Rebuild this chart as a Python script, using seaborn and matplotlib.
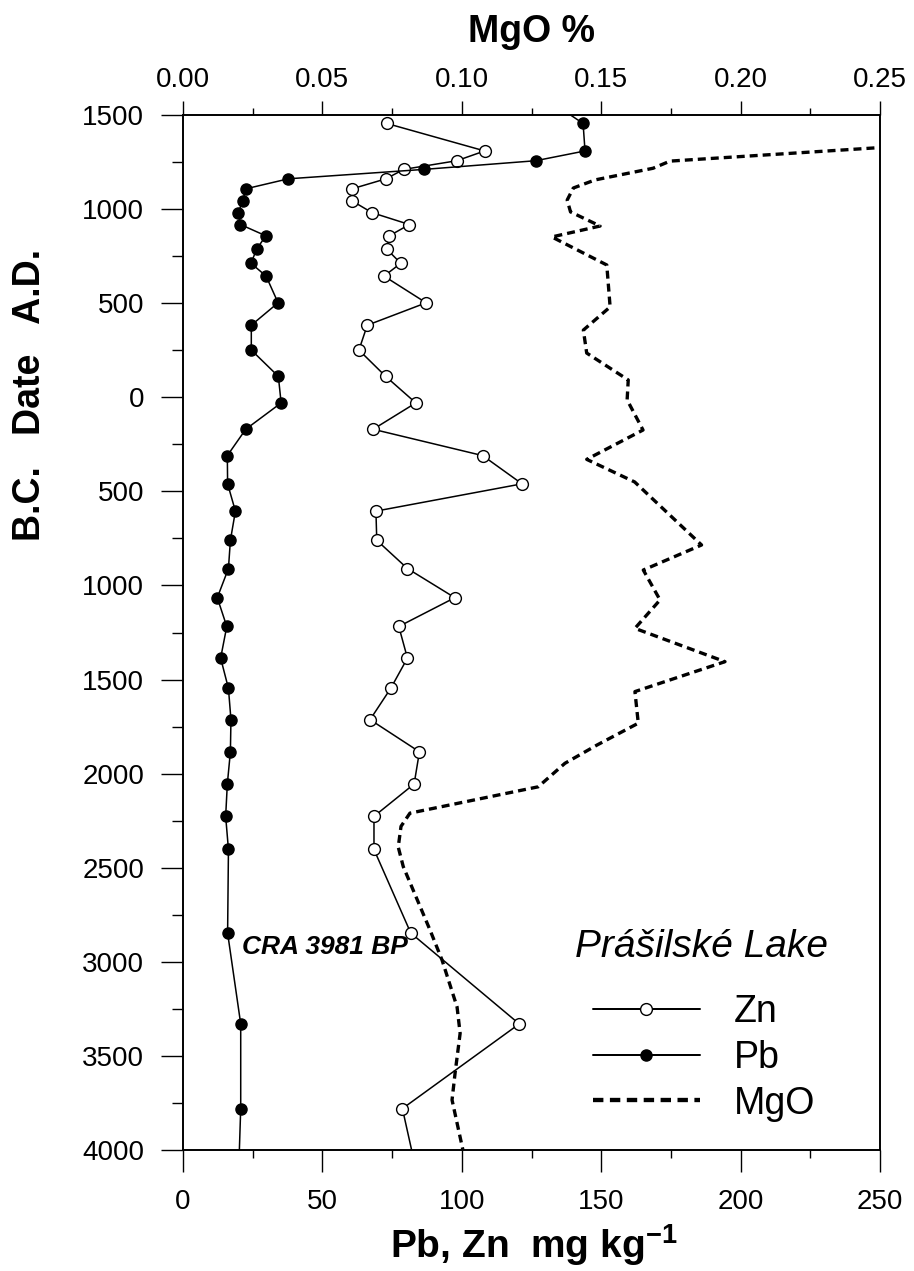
import matplotlib
matplotlib.use("Agg")
import matplotlib.pyplot as plt
import seaborn as sns
import numpy as np
import pandas as pd
from matplotlib.ticker import MultipleLocator, FixedLocator, FormatStrFormatter

# ---------------- data (years: AD positive, BC negative) ----------------
pb_year = [1560, 1455, 1309, 1257, 1211, 1161, 1108, 1043, 981, 918, 858, 787,
           712, 644, 502, 383, 251, 111, -30, -170, -310, -460, -605, -760,
           -910, -1065, -1218, -1386, -1547, -1713, -1884, -2055, -2227, -2403,
           -2847, -3330, -3780, -4100]
pb = [133, 143.5, 144.2, 126.5, 86.5, 37.8, 22.6, 21.4, 19.8, 20.6, 29.7, 26.4,
      24.4, 29.8, 34.1, 24.5, 24.5, 34.2, 35.2, 22.5, 15.9, 16.0, 18.8, 17.0,
      16.3, 12.3, 15.7, 13.5, 16.3, 17.2, 17.0, 15.9, 15.3, 16.3,
      16.0, 20.7, 20.7, 20.0]

zn_year = [1455, 1309, 1257, 1211, 1161, 1108, 1043, 981, 918, 858, 787,
           712, 644, 502, 383, 251, 111, -30, -170, -310, -460, -605, -760,
           -910, -1065, -1218, -1386, -1547, -1713, -1884, -2055, -2227, -2403,
           -2847, -3330, -3780, -4100]
zn = [73.1, 108.2, 98.2, 79.2, 72.8, 60.7, 60.7, 67.8, 81.2, 74.0, 73.1,
      78.1, 72.1, 87.2, 66.1, 63.1, 72.7, 83.5, 68.2, 107.5, 121.6, 69.2, 69.5,
      80.5, 97.5, 77.4, 80.5, 74.5, 67.1, 84.8, 82.9, 68.5, 68.5,
      81.7, 120.6, 78.7, 83.5]

mgo_year = [1325, 1255, 1217, 1155, 1112, 1048, 985, 910, 852, 703, 480, 357,
            235, 92, -14, -174, -330, -450, -785, -918, -1077, -1228, -1405,
            -1564, -1732, -1848, -1945, -2070, -2210, -2280, -2390, -2494,
            -2831, -2990, -3240, -3380, -3590, -3734, -4000]
mgo = [0.248, 0.1747, 0.1686, 0.1478, 0.140, 0.1378, 0.139, 0.1496, 0.1323,
       0.152, 0.1532, 0.1436, 0.1448, 0.1597, 0.1593, 0.165, 0.1448, 0.162,
       0.186, 0.1651, 0.1711, 0.1621, 0.1944, 0.1621, 0.1633, 0.1485, 0.137,
       0.1274, 0.0814, 0.0782, 0.0772, 0.079, 0.0886, 0.0929, 0.0983, 0.0994,
       0.0976, 0.0965, 0.1004]

ytick_values = [1500, 1000, 500, 0, -500, -1000, -1500, -2000, -2500, -3000, -3500, -4000]
ytick_labels = ["1500", "1000", "500", "0", "500", "1000", "1500", "2000",
                "2500", "3000", "3500", "4000"]

df_pb = pd.DataFrame({"year": pb_year, "value": pb})
df_zn = pd.DataFrame({"year": zn_year, "value": zn})
df_mgo = pd.DataFrame({"year": mgo_year, "value": mgo})

# ---------------- style ----------------
sns.set_style("ticks")
plt.rcParams["font.family"] = ["Liberation Sans", "DejaVu Sans"]
plt.rcParams["mathtext.fontset"] = "custom"
plt.rcParams["mathtext.rm"] = "Liberation Sans"
plt.rcParams["mathtext.bf"] = "Liberation Sans:bold"
plt.rcParams["mathtext.default"] = "bf"
plt.rcParams["axes.edgecolor"] = "black"
plt.rcParams["xtick.color"] = "black"
plt.rcParams["ytick.color"] = "black"
plt.rcParams["text.color"] = "black"
plt.rcParams["axes.labelcolor"] = "black"
plt.rcParams["xtick.labelcolor"] = "black"
plt.rcParams["ytick.labelcolor"] = "black"

W, H = 914, 1271
fig = plt.figure(figsize=(W / 100, H / 100), dpi=100)
fig.patch.set_facecolor("white")
ax = fig.add_axes([183 / W, 1 - 1150 / H, 697 / W, 1035 / H])
ax2 = ax.twiny()

sns.lineplot(data=df_zn, x="value", y="year", ax=ax, sort=False, estimator=None,
             orient="y", color="black", lw=1.1, marker="o", markersize=8.5,
             markerfacecolor="white", markeredgecolor="black",
             markeredgewidth=1.0, label="Zn", legend=False)
sns.lineplot(data=df_pb, x="value", y="year", ax=ax, sort=False, estimator=None,
             orient="y", color="black", lw=1.1, marker="o", markersize=8,
             markerfacecolor="black", markeredgecolor="black",
             markeredgewidth=1.0, label="Pb", legend=False)
sns.lineplot(data=df_mgo, x="value", y="year", ax=ax2, sort=False, estimator=None,
             orient="y", color="black", lw=2.4, label="MgO", legend=False)
mgo_line = ax2.lines[-1]
mgo_line.set_dashes([2.4, 1.5])
zn_line, pb_line = ax.lines[0], ax.lines[1]

ax.set_xlim(0, 250)
ax.set_ylim(-4000, 1500)
ax2.set_xlim(0, 0.25)
ax.set_xlabel("")
ax.set_ylabel("")
ax2.set_xlabel("")
ax2.set_ylabel("")

ax.xaxis.set_major_locator(MultipleLocator(50))
ax.xaxis.set_minor_locator(MultipleLocator(25))
ax.yaxis.set_major_locator(FixedLocator(ytick_values))
ax.yaxis.set_minor_locator(MultipleLocator(250))
ax.set_yticklabels(ytick_labels)
ax2.xaxis.set_major_locator(MultipleLocator(0.05))
ax2.xaxis.set_minor_locator(MultipleLocator(0.025))
ax2.xaxis.set_major_formatter(FormatStrFormatter("%.2f"))

for a in (ax, ax2):
    for s in a.spines.values():
        s.set_visible(True)
        s.set_color("black")
        s.set_linewidth(1.2)

ax.tick_params(axis="x", which="major", direction="out", length=16, width=1.0,
               labelsize=20, pad=12, top=False, bottom=True)
ax.tick_params(axis="x", which="minor", direction="out", length=6, width=1.0,
               top=False, bottom=True)
ax.tick_params(axis="y", which="major", direction="out", length=16, width=1.0,
               labelsize=20, pad=12, right=False)
ax.tick_params(axis="y", which="minor", direction="out", length=8, width=1.0,
               right=False)
ax2.tick_params(axis="x", which="major", direction="out", length=10, width=1.0,
                labelsize=20, pad=5.5)
ax2.tick_params(axis="x", which="minor", direction="out", length=5, width=1.0)

# ---------------- texts ----------------
fig.text(532 / W, 1 - 32 / H, "MgO %", ha="center", va="center",
         fontsize=27, fontweight="bold")
fig.text(534 / W, 1 - 1245 / H, r"Pb, Zn  mg kg$^{-1}$", ha="center",
         va="center", fontsize=28, fontweight="bold")
fig.text(30 / W, 1 - 395 / H, "B.C.   Date   A.D.", ha="center", va="center",
         rotation=90, fontsize=27, fontweight="bold")
ax.text(21, -2921, "CRA 3981 BP", ha="left", va="center", fontsize=19,
        fontweight="bold", style="italic")
fig.text(575 / W, 1 - 947 / H, "Prášilské Lake", ha="left", va="center",
         fontsize=28, style="italic")

leg = ax2.legend([zn_line, pb_line, mgo_line], ["Zn", "Pb", "MgO"],
                 loc="upper left",
                 bbox_to_anchor=(593 / W, 1 - 994 / H),
                 bbox_transform=fig.transFigure, frameon=False, fontsize=27,
                 handlelength=2.85, handletextpad=0.9, labelspacing=0.26,
                 borderpad=0, borderaxespad=0)
for h in leg.legend_handles:
    h.set_linewidth(h.get_linewidth() * 1.3)

fig.savefig("out.png", dpi=100, facecolor="white")
